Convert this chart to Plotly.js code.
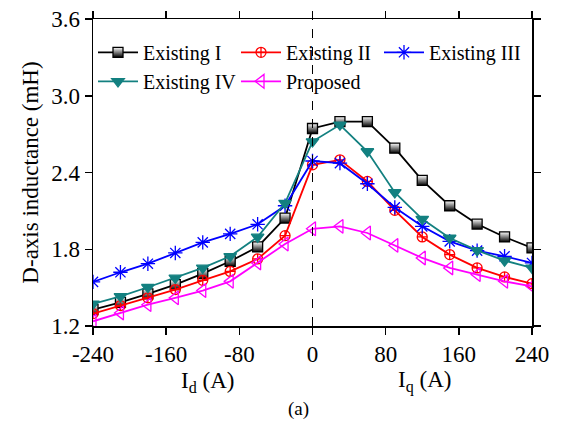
<!DOCTYPE html>
<html>
<head>
<meta charset="utf-8">
<script src="https://cdn.plot.ly/plotly-3.0.1.min.js"></script>
<style>html,body{margin:0;padding:0;background:#fff;}#chart{width:565px;height:422px;}</style>
</head>
<body>
<div id="chart"></div>
<script>
const current = [-240,-210,-180,-150,-120,-90,-60,-30,0,30,60,90,120,150,180,210,240];
const existingI   = [1.328,1.385,1.451,1.523,1.609,1.706,1.818,2.044,2.744,2.798,2.798,2.590,2.338,2.140,1.997,1.896,1.810];
const existingII  = [1.297,1.360,1.420,1.485,1.557,1.627,1.724,1.906,2.460,2.499,2.330,2.104,1.896,1.758,1.654,1.584,1.531];
const existingIII = [1.545,1.620,1.687,1.771,1.854,1.920,1.995,2.140,2.490,2.473,2.312,2.127,1.979,1.862,1.789,1.745,1.693];
const existingIV  = [1.373,1.432,1.503,1.576,1.654,1.745,1.896,2.161,2.642,2.773,2.564,2.244,2.036,1.888,1.791,1.711,1.654];
const proposed    = [1.237,1.302,1.367,1.420,1.477,1.549,1.693,1.841,1.960,1.979,1.927,1.830,1.732,1.654,1.602,1.549,1.510];
const names = ['Existing I','Existing II','Existing III','Existing IV','Proposed'];
const xTicks = [-240,-160,-80,0,80,160,240];
const xTickText = ['-240','-160','-80','0','80','160','240'];

const serif = 'Liberation Serif, Times New Roman, serif';
function tr(y, name, color, symbol, extra) {
  return {
    x: current, y: y, name: name, type: 'scatter', mode: 'lines+markers',
    line: {color: color, width: 1.8},
    marker: Object.assign({symbol: symbol, size: 10, color: color, line: {color: color, width: 1.3}}, extra || {})
  };
}
const data = [
  tr(existingI, names[0], '#000000', 'square', {color: '#ffffff', gradient: {type: 'vertical', color: '#000000'}, line: {color: '#000000', width: 1.3}}),
  tr(existingII, names[1], '#ff0000', 'circle-cross-open'),
  tr(existingIII, names[2], '#0000ff', 'asterisk-open', {size: 12}),
  tr(existingIV, names[3], '#138080', 'triangle-down', {size: 11}),
  tr(proposed, names[4], '#ff00ff', 'triangle-left-open', {size: 12})
];
const layout = {
  width: 565, height: 422,
  margin: {l: 93, r: 33, t: 19, b: 96},
  paper_bgcolor: '#fff', plot_bgcolor: '#fff',
  font: {family: serif, size: 23, color: '#000'},
  showlegend: true,
  legend: {orientation: 'h', x: 0.0, xanchor: 'left', y: 0.955, yanchor: 'top',
    bgcolor: 'rgba(0,0,0,0)', font: {family: serif, size: 20, color: '#000'},
    entrywidth: 88, entrywidthmode: 'pixels', tracegroupgap: 0, itemwidth: 40},
  xaxis: {range: [-240, 240], tickvals: xTicks, ticktext: xTickText, showgrid: false, zeroline: false,
    showline: true, linecolor: '#000', linewidth: 1.5, mirror: 'ticks', ticks: 'outside', ticklen: 7,
    tickwidth: 1.5, tickcolor: '#000', tickfont: {size: 23, family: serif}},
  yaxis: {range: [1.2, 3.6], dtick: 0.6, tick0: 1.2, tickformat: '.1f', showgrid: false, zeroline: false,
    showline: true, linecolor: '#000', linewidth: 1.5, mirror: 'ticks', ticks: 'outside', ticklen: 7,
    tickwidth: 1.5, tickcolor: '#000', tickfont: {size: 23, family: serif},
    title: {text: 'D-axis inductance (mH)', font: {size: 23, family: serif}, standoff: 6}},
  shapes: [{type: 'line', xref: 'x', yref: 'paper', x0: 0, x1: 0, y0: 0, y1: 1,
    line: {color: '#000', width: 1, dash: 'dash'}}],
  annotations: [
    {text: 'I<sub>d</sub> (A)', xref: 'x', yref: 'paper', x: -115, y: 0, yshift: -72, showarrow: false, font: {size: 23, family: serif}},
    {text: 'I<sub>q</sub> (A)', xref: 'x', yref: 'paper', x: 123, y: 0, yshift: -72, showarrow: false, font: {size: 23, family: serif}},
    {text: '(a)', xref: 'x', yref: 'paper', x: -15, xanchor: 'center', y: 0, yshift: -96, showarrow: false, font: {size: 19, family: serif}}
  ]
};
Plotly.newPlot('chart', data, layout, {displayModeBar: false, staticPlot: true});
</script>
</body>
</html>
